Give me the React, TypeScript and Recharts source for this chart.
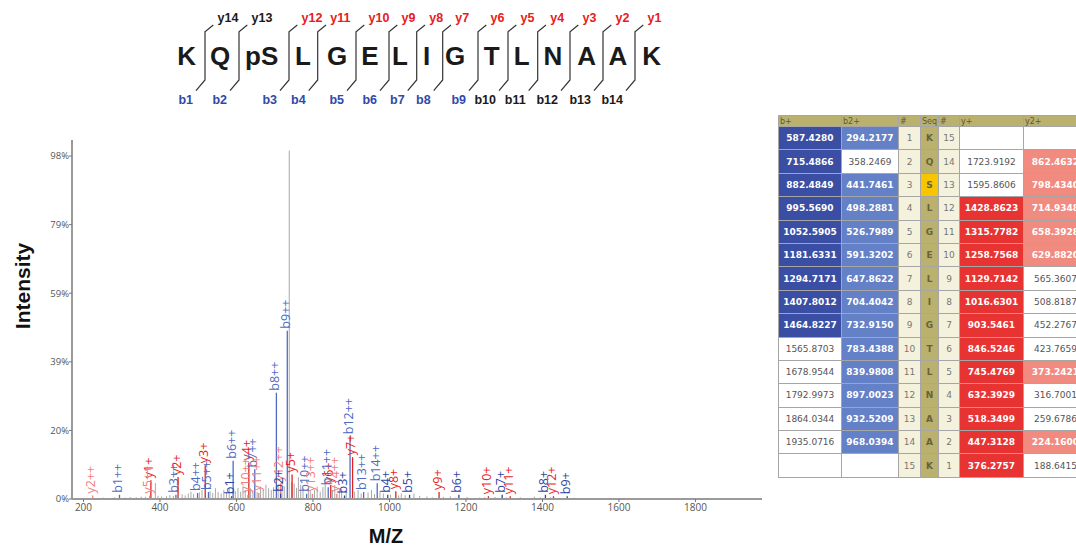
import React from 'react';
import { ComposedChart, Bar, XAxis, YAxis } from 'recharts';

// ---- peptide ----
const residues = ['K', 'Q', 'pS', 'L', 'G', 'E', 'L', 'I', 'G', 'T', 'L', 'N', 'A', 'A', 'K'];
const phosphoRow = 3;

// ---- fragment table (theoretical m/z, row order N->C) ----
const seqTable = ['K', 'Q', 'S', 'L', 'G', 'E', 'L', 'I', 'G', 'T', 'L', 'N', 'A', 'A', 'K'];
const bPlus = [587.428, 715.4866, 882.4849, 995.569, 1052.5905, 1181.6331, 1294.7171, 1407.8012, 1464.8227, 1565.8703, 1678.9544, 1792.9973, 1864.0344, 1935.0716, null];
const b2Plus = [294.2177, 358.2469, 441.7461, 498.2881, 526.7989, 591.3202, 647.8622, 704.4042, 732.915, 783.4388, 839.9808, 897.0023, 932.5209, 968.0394, null];
const yPlus = [null, 1723.9192, 1595.8606, 1428.8623, 1315.7782, 1258.7568, 1129.7142, 1016.6301, 903.5461, 846.5246, 745.4769, 632.3929, 518.3499, 447.3128, 376.2757];
const y2Plus = [null, 862.4632, 798.434, 714.9348, 658.3928, 629.882, 565.3607, 508.8187, 452.2767, 423.7659, 373.2421, 316.7001, 259.6786, 224.16, 188.6415];

// ---- matched peaks: ion number -> relative intensity (%) ----
const bHits: Record<number, number> = { 1: 0.8, 2: 1.5, 3: 1.0, 4: 1.2, 5: 1.2, 6: 1.2, 7: 1.2, 8: 1.2, 9: 0.8 };
const b2Hits: Record<number, number> = { 1: 1.2, 3: 1.2, 4: 1.7, 5: 2.0, 6: 11, 7: 8.5, 8: 30.5, 9: 48.3, 10: 1.5, 11: 3.4, 12: 18, 13: 2.0, 14: 4.5 };
const yHits: Record<number, number> = { 1: 5.4, 2: 6.3, 3: 9.7, 4: 10.5, 5: 7, 6: 4, 7: 12, 8: 2.2, 9: 2.0, 10: 0.8, 11: 0.8, 12: 0.8 };
const y2Hits: Record<number, number> = { 2: 1.0, 5: 1.0, 10: 1.2, 11: 1.7, 12: 4.5, 13: 1.5, 14: 1.5 };

// ---- unmatched peaks [m/z, %] ----
const unmatched: [number, number][] = [
  [236, 0.3], [252, 0.4], [268, 0.3], [281, 0.5], [309, 0.4], [322, 0.6], [338, 0.5], [351, 0.7], [362, 0.6],
  [388, 4.6], [395, 0.9], [404, 0.7], [417, 0.8], [426, 1.1], [435, 0.9], [458, 1.3], [466, 1.0], [474, 1.6],
  [481, 2.1], [488, 1.4], [503, 1.9], [510, 2.6], [531, 2.3], [538, 1.7], [545, 3.1], [552, 2.0], [560, 1.6],
  [567, 2.6], [574, 1.9], [581, 2.9], [597, 2.3], [604, 3.2], [611, 2.1], [617, 3.6], [623, 2.6], [637, 3.1],
  [643, 2.4], [654, 2.0], [663, 3.6], [670, 2.6], [677, 4.1], [684, 3.1], [691, 2.6], [697, 3.4], [709, 4.2],
  [719, 5.1], [725, 3.6], [738, 100], [744, 4.8], [751, 4.4], [757, 3.2], [762, 6.2], [768, 4.1], [774, 3.1],
  [788, 3.0], [793, 2.2], [804, 2.6], [811, 3.6], [819, 2.1], [826, 3.4], [832, 6.0], [851, 2.6], [857, 4.0],
  [869, 3.0], [875, 2.1], [887, 2.6], [909, 2.1], [918, 2.6], [926, 1.6], [944, 1.9], [953, 2.6], [961, 1.4],
  [975, 2.1], [984, 1.6], [1003, 1.3], [1024, 1.0], [1031, 1.6], [1041, 1.1], [1064, 1.5], [1079, 0.9],
  [1098, 0.7], [1112, 0.5], [1141, 0.6], [1159, 0.8], [1172, 0.4], [1203, 0.6], [1236, 0.4], [1249, 0.5],
  [1276, 0.6], [1306, 0.4], [1342, 0.5], [1379, 0.7], [1394, 0.5], [1421, 0.5], [1447, 0.3], [1483, 0.4],
];

const xTicks = [200, 400, 600, 800, 1000, 1200, 1400, 1600, 1800];
const yTicks = [0, 19.68, 39.36, 59.04, 78.72, 98.4];

// ---- styles ----
const COLORS: Record<string, string> = {
  b: '#2f45a5',
  b2: '#4f6cc4',
  y: '#e61e1e',
  y2: '#f27e7e',
  none: '#a8a8a8',
};

type Peak = { mz: number; intensity: number; kind: string; label: string };

const hits: Peak[] = [];
Object.entries(bHits).forEach(([n, v]) => hits.push({ mz: bPlus[+n - 1] as number, intensity: v, kind: 'b', label: `b${n}+` }));
Object.entries(b2Hits).forEach(([n, v]) => hits.push({ mz: b2Plus[+n - 1] as number, intensity: v, kind: 'b2', label: `b${n}++` }));
Object.entries(yHits).forEach(([n, v]) => hits.push({ mz: yPlus[15 - +n] as number, intensity: v, kind: 'y', label: `y${n}+` }));
Object.entries(y2Hits).forEach(([n, v]) => hits.push({ mz: y2Plus[15 - +n] as number, intensity: v, kind: 'y2', label: `y${n}++` }));
hits.sort((a, b) => b.intensity - a.intensity);

const peaks: Peak[] = [
  ...unmatched.map(([mz, intensity]) => ({ mz, intensity, kind: 'none', label: '' })),
  ...hits,
];

// one stick per peak, label written upward from the peak top
const Stick = (props: any) => {
  const { x, y, width, height, payload } = props;
  if (x == null || y == null || !payload) return null;
  const cx = x + width / 2;
  const color = COLORS[payload.kind];
  const tx = cx + 2.5;
  const ty = y - 2;
  return (
    <g>
      <line x1={cx} x2={cx} y1={y} y2={y + height} stroke={color} strokeWidth={payload.kind === 'none' ? 1 : 1.3} />
      {payload.label && (
        <text
          x={tx}
          y={ty}
          transform={`rotate(-90, ${tx}, ${ty})`}
          fill={color}
          fontSize={12.5}
          fontFamily='"Open Sans", sans-serif'
        >
          {payload.label}
        </text>
      )}
    </g>
  );
};

// layout of the peptide map
const letterX = [186.7, 220, 261.7, 303, 337, 370, 400, 426.7, 455, 491.7, 521.7, 553, 586.7, 618, 651.7];
const sepX = [205, 239, 289, 317.7, 356, 389, 416.7, 442.7, 478, 508, 537.7, 570, 603, 635];

const PeptideMap = () => (
  <svg width={700} height={115} style={{ position: 'absolute', left: 0, top: 0 }}>
    {residues.map((r, i) => (
      <text key={i} x={letterX[i]} y={65} textAnchor="middle" fontSize={26} fontWeight="bold"
        fontFamily='"Liberation Sans", Arial, sans-serif' fill="#1a1a1a">{r}</text>
    ))}
    {sepX.map((sx, i) => {
      const bn = i + 1;
      const yn = 14 - i;
      const bColor = bHits[bn] != null ? '#2f4aa8' : '#1a1a1a';
      const yColor = yHits[yn] != null ? '#e62020' : '#1a1a1a';
      return (
        <g key={i}>
          <polyline points={`${sx + 8.3},25 ${sx},31.7 ${sx},80 ${sx - 9},90.7`} fill="none" stroke="#333" strokeWidth={1.2} />
          <text x={sx + 12.5} y={22} fontSize={12.5} fontWeight="bold" fill={yColor}
            fontFamily='"Liberation Sans", Arial, sans-serif'>{`y${yn}`}</text>
          <text x={sx - 12} y={104} textAnchor="end" fontSize={12.5} fontWeight="bold" fill={bColor}
            fontFamily='"Liberation Sans", Arial, sans-serif'>{`b${bn}`}</text>
        </g>
      );
    })}
  </svg>
);

const colWidths = [63, 57, 22, 18, 21, 64, 64];
const headers = ['b+', 'b2+', '#', 'Seq', '#', 'y+', 'y2+'];

const FragmentTable = () => {
  const cell = (bg: string, color: string, bold: boolean): React.CSSProperties => ({
    background: bg,
    color,
    fontWeight: bold ? 'bold' : 'normal',
    border: '1px solid #a6a6a6',
    padding: 0,
    textAlign: 'center',
    fontSize: 9,
    fontFamily: '"DejaVu Sans", Verdana, sans-serif',
    whiteSpace: 'nowrap',
    overflow: 'hidden',
  });
  const fmt = (v: number | null) => (v == null ? '' : v.toFixed(4));
  return (
    <div style={{ position: 'absolute', left: 778, top: 115, width: 298, height: 370, overflow: 'hidden' }}>
      <table style={{ borderCollapse: 'collapse', tableLayout: 'fixed', width: colWidths.reduce((a, b) => a + b, 0) }}>
        <colgroup>
          {colWidths.map((w, i) => <col key={i} style={{ width: w }} />)}
        </colgroup>
        <tbody>
          <tr style={{ height: 11 }}>
            {headers.map((h, i) => (
              <td key={i} style={{ ...cell('#b9b16d', '#5e5838', false), textAlign: 'left', fontSize: 8, lineHeight: '9px', paddingLeft: 1 }}>{h}</td>
            ))}
          </tr>
          {seqTable.map((aa, r) => {
            const n = r + 1;
            const yn = 15 - r;
            const bOn = bHits[n] != null;
            const b2On = b2Hits[n] != null;
            const yOn = yHits[yn] != null;
            const y2On = y2Hits[yn] != null;
            return (
              <tr key={r} style={{ height: 23.4 }}>
                <td style={cell(bOn ? '#3a4ea3' : '#fff', bOn ? '#fff' : '#555', bOn)}>{fmt(bPlus[r])}</td>
                <td style={cell(b2On ? '#6480c6' : '#fff', b2On ? '#fff' : '#555', b2On)}>{fmt(b2Plus[r])}</td>
                <td style={cell('#f4f2dc', '#777', false)}>{n}</td>
                <td style={cell(n === phosphoRow ? '#f7c600' : '#b9b16d', '#6a6236', true)}>{aa}</td>
                <td style={cell('#f4f2dc', '#777', false)}>{yn}</td>
                <td style={cell(yOn ? '#e83333' : '#fff', yOn ? '#fff' : '#555', yOn)}>{fmt(yPlus[r])}</td>
                <td style={cell(y2On ? '#f28b7f' : '#fff', y2On ? '#fff' : '#555', y2On)}>{fmt(y2Plus[r])}</td>
              </tr>
            );
          })}
        </tbody>
      </table>
    </div>
  );
};

export default function App() {
  return (
    <div style={{ position: 'absolute', left: 0, top: 0, width: 1076, height: 546, background: '#fff', overflow: 'hidden' }}>
      <PeptideMap />
      <div style={{ position: 'absolute', left: 0, top: 120 }}>
        <ComposedChart width={780} height={410} data={peaks} margin={{ top: 20, right: 18, left: 0, bottom: 6 }}>
          <XAxis
            type="number"
            dataKey="mz"
            domain={[170, 1974]}
            ticks={xTicks}
            allowDataOverflow
            height={25}
            tickSize={3}
            tickMargin={2}
            axisLine={{ stroke: '#9a9a9a', strokeWidth: 2 }}
            tickLine={{ stroke: '#777' }}
            tick={{ fontSize: 10, fill: '#555', fontFamily: '"Open Sans", sans-serif' }}
          />
          <YAxis
            type="number"
            domain={[0, 103]}
            ticks={yTicks}
            width={72}
            tickSize={3}
            tickMargin={0}
            tickFormatter={(v: number) => `${Math.round(v)}%`}
            axisLine={{ stroke: '#9a9a9a', strokeWidth: 2 }}
            tickLine={{ stroke: '#777' }}
            tick={{ fontSize: 9.5, fill: '#555', fontFamily: '"Open Sans", sans-serif' }}
          />
          <Bar dataKey="intensity" barSize={2} shape={(p: any) => <Stick {...p} />} isAnimationActive={false} />
        </ComposedChart>
      </div>
      <svg width={1076} height={546} style={{ position: 'absolute', left: 0, top: 0, pointerEvents: 'none' }}>
        <text x={0} y={0} transform="translate(30, 286) rotate(-90)" textAnchor="middle" fontSize={21} fontWeight="bold"
          fontFamily='"Liberation Sans", Arial, sans-serif' fill="#111">Intensity</text>
        <text x={386} y={543} textAnchor="middle" fontSize={20} fontWeight="bold"
          fontFamily='"Liberation Sans", Arial, sans-serif' fill="#111">M/Z</text>
      </svg>
      <FragmentTable />
    </div>
  );
}
